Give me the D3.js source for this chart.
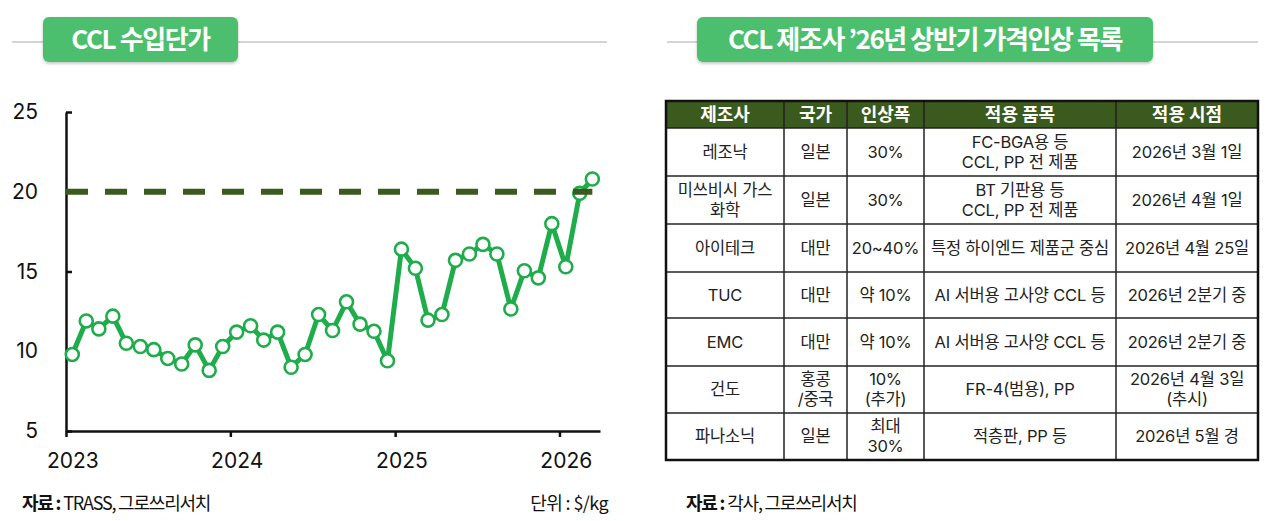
<!DOCTYPE html>
<html>
<head>
<meta charset="utf-8">
<script src="https://cdn.jsdelivr.net/npm/d3@7"></script>
<style>
  html, body { margin: 0; padding: 0; background: #fff; }
  svg { display: block; }
</style>
</head>
<body>
<svg id="page" width="1280" height="521"></svg>
<script>
// monthly CCL import unit price ($/kg)
var months = [
    '2023-01', '2023-02', '2023-03', '2023-04', '2023-05', '2023-06',
    '2023-07', '2023-08', '2023-09', '2023-10', '2023-11', '2023-12',
    '2024-01', '2024-02', '2024-03', '2024-04', '2024-05', '2024-06',
    '2024-07', '2024-08', '2024-09', '2024-10', '2024-11', '2024-12',
    '2025-01', '2025-02', '2025-03', '2025-04', '2025-05', '2025-06',
    '2025-07', '2025-08', '2025-09', '2025-10', '2025-11', '2025-12',
    '2026-01', '2026-02', '2026-03'
];
var prices = [
    9.8, 11.9, 11.4, 12.2, 10.5, 10.3, 10.1, 9.55, 9.2, 10.4, 8.8, 10.3,
    11.2, 11.6, 10.7, 11.2, 9.0, 9.8, 12.3, 11.3, 13.1, 11.7, 11.25, 9.4,
    16.4, 15.2, 11.95, 12.3, 15.7, 16.1, 16.7, 16.1, 12.65, 15.05, 14.6, 18.0,
    15.3, 19.9, 20.8
];
var refLevel = 20;
var yearTicks = [2023, 2024, 2025, 2026];
var yTicks = [5, 10, 15, 20, 25];

// table of price hikes
var tableHeader = ['제조사', '국가', '인상폭', '적용 품목', '적용 시점'];
var tableRows = [
    ['레조낙', '일본', '30%', 'FC-BGA용 등\nCCL, PP 전 제품', '2026년 3월 1일'],
    ['미쓰비시 가스\n화학', '일본', '30%', 'BT 기판용 등\nCCL, PP 전 제품', '2026년 4월 1일'],
    ['아이테크', '대만', '20~40%', '특정 하이엔드 제품군 중심', '2026년 4월 25일'],
    ['TUC', '대만', '약 10%', 'AI 서버용 고사양 CCL 등', '2026년 2분기 중'],
    ['EMC', '대만', '약 10%', 'AI 서버용 고사양 CCL 등', '2026년 2분기 중'],
    ['건도', '홍콩\n/중국', '10%\n(추가)', 'FR-4(범용), PP', '2026년 4월 3일\n(추시)'],
    ['파나소닉', '일본', '최대\n30%', '적층판, PP 등', '2026년 5월 경']
];

var leftTitle = 'CCL 수입단가';
var rightTitle = 'CCL 제조사 ’26년 상반기 가격인상 목록';
var leftSource = 'TRASS, 그로쓰리서치';
var rightSource = '각사, 그로쓰리서치';
var unitText = '단위 :  $/kg';

var KR = '"Noto Sans CJK KR", "Noto Sans", sans-serif';
var TBL = 'Inter, "Noto Sans CJK KR", sans-serif';
var GREEN = '#1fad4c';
var DARK = '#3b5a1e';

var svg = d3.select('#page');

// defs: soft shadow for title pills
var defs = svg.append('defs');
var f = defs.append('filter').attr('id', 'pillShadow')
    .attr('x', '-10%').attr('y', '-20%').attr('width', '120%').attr('height', '150%');
f.append('feDropShadow').attr('dx', 0).attr('dy', 1.5).attr('stdDeviation', 1.5)
    .attr('flood-color', '#000').attr('flood-opacity', 0.25);

function titleBar(x0, x1, px, pw, text) {
    svg.append('line')
        .attr('x1', x0).attr('x2', x1).attr('y1', 42).attr('y2', 42)
        .attr('stroke', '#c6c6c6').attr('stroke-width', 1.5);
    svg.append('rect')
        .attr('x', px).attr('y', 17).attr('width', pw).attr('height', 45)
        .attr('rx', 6).attr('fill', '#4cbf6e')
        .attr('filter', 'url(#pillShadow)');
    svg.append('text')
        .attr('x', px + pw / 2).attr('y', 49)
        .attr('text-anchor', 'middle')
        .attr('font-family', KR).attr('font-weight', 700)
        .attr('font-size', 26).attr('letter-spacing', -1.4)
        .attr('fill', '#fff')
        .text(text);
}

titleBar(12, 607, 43, 195, leftTitle);
titleBar(667, 1258, 697, 456, rightTitle);

// ---------- line chart ----------
var parse = d3.timeParse('%Y-%m-%d');
var data = months.map(function(m, i) {
    return { date: parse(m + '-15'), value: prices[i] };
});

var x = d3.scaleTime()
    .domain([parse('2023-01-01'), parse('2026-04-01')])
    .range([66, 600]);
var y = d3.scaleLinear().domain([5, 25]).range([431, 112]);

var chart = svg.append('g');

var yAxis = chart.append('g')
    .attr('transform', 'translate(66,0)')
    .call(d3.axisLeft(y).tickValues(yTicks).tickSizeInner(-6).tickSizeOuter(0).tickPadding(28));
yAxis.select('.domain').attr('stroke', '#111').attr('stroke-width', 2.5);
yAxis.selectAll('.tick line').attr('stroke', '#111').attr('stroke-width', 2.5);
yAxis.selectAll('.tick text')
    .attr('font-family', 'Inter, "Noto Sans", sans-serif')
    .attr('font-size', 21).attr('fill', '#111');

var yearStarts = yearTicks.map(function(yr) { return parse(yr + '-01-01'); });
var xAxis = chart.append('g')
    .attr('transform', 'translate(0,431)')
    .call(d3.axisBottom(x).tickValues(yearStarts).tickSizeInner(6).tickSizeOuter(0)
        .tickPadding(16).tickFormat(d3.timeFormat('%Y')));
xAxis.select('.domain').attr('stroke', '#111').attr('stroke-width', 2.5);
xAxis.selectAll('.tick line').attr('stroke', '#111').attr('stroke-width', 2.5);
xAxis.selectAll('.tick text')
    .attr('font-family', 'Inter, "Noto Sans", sans-serif')
    .attr('font-size', 21).attr('fill', '#111')
    .attr('dx', function(d) {
        var mid = d3.timeDay.offset(d, 14);
        return x(mid) - x(d);
    });

var line = d3.line()
    .x(function(d) { return x(d.date); })
    .y(function(d) { return y(d.value); });

chart.append('path')
    .datum(data)
    .attr('d', line)
    .attr('fill', 'none')
    .attr('stroke', GREEN)
    .attr('stroke-width', 5)
    .attr('stroke-linejoin', 'round');

chart.selectAll('.dot')
    .data(data)
    .enter()
    .append('circle')
    .attr('class', 'dot')
    .attr('cx', function(d) { return x(d.date); })
    .attr('cy', function(d) { return y(d.value); })
    .attr('r', 6.5)
    .attr('fill', '#fff')
    .attr('stroke', GREEN)
    .attr('stroke-width', 2.6);

// reference level, drawn over the series
chart.append('line')
    .attr('x1', x.range()[0]).attr('x2', x(data[data.length - 1].date))
    .attr('y1', y(refLevel)).attr('y2', y(refLevel))
    .attr('stroke', DARK).attr('stroke-width', 6)
    .attr('stroke-dasharray', '22,17');

// footers
function source(xp, text) {
    var t = svg.append('text')
        .attr('x', xp).attr('y', 510)
        .attr('font-family', KR).attr('font-size', 18)
        .attr('letter-spacing', -1.2).attr('fill', '#111');
    t.append('tspan').attr('font-weight', 700).text('자료 : ');
    t.append('tspan').text(text);
}
source(22, leftSource);
source(686, rightSource);

svg.append('text')
    .attr('x', 608).attr('y', 510)
    .attr('text-anchor', 'end')
    .attr('font-family', KR).attr('font-size', 18)
    .attr('letter-spacing', -0.6).attr('fill', '#111')
    .text(unitText);

// ---------- table ----------
var colEdges = [666, 784, 847, 924, 1116, 1258];
var rowEdges = [101, 128, 176, 224, 272, 318, 366, 413, 460];
var lineH = 20;

var table = svg.append('g');

table.append('rect')
    .attr('x', colEdges[0]).attr('y', rowEdges[0])
    .attr('width', colEdges[5] - colEdges[0]).attr('height', rowEdges[1] - rowEdges[0])
    .attr('fill', DARK);

function cellText(lines, cx, cy, header) {
    var n = lines.length;
    var t = table.append('text')
        .attr('text-anchor', 'middle')
        .attr('font-family', header ? KR : TBL)
        .attr('font-size', header ? 18 : 16.5)
        .attr('font-weight', header ? 700 : 400)
        .attr('letter-spacing', header ? 0 : -0.2)
        .attr('fill', header ? '#fff' : '#222');
    lines.forEach(function(l, i) {
        t.append('tspan')
            .attr('x', cx)
            .attr('y', cy + (i - (n - 1) / 2) * lineH)
            .attr('dy', '0.36em')
            .text(l);
    });
}

tableHeader.forEach(function(h, c) {
    cellText([h], (colEdges[c] + colEdges[c + 1]) / 2, (rowEdges[0] + rowEdges[1]) / 2, true);
});
tableRows.forEach(function(row, r) {
    row.forEach(function(cell, c) {
        cellText(cell.split('\n'),
            (colEdges[c] + colEdges[c + 1]) / 2,
            (rowEdges[r + 1] + rowEdges[r + 2]) / 2, false);
    });
});

// grid lines
colEdges.slice(1, -1).forEach(function(cx) {
    table.append('line')
        .attr('x1', cx).attr('x2', cx).attr('y1', rowEdges[0]).attr('y2', rowEdges[rowEdges.length - 1])
        .attr('stroke', '#222').attr('stroke-width', 1.5);
});
rowEdges.slice(1, -1).forEach(function(ry) {
    table.append('line')
        .attr('x1', colEdges[0]).attr('x2', colEdges[colEdges.length - 1]).attr('y1', ry).attr('y2', ry)
        .attr('stroke', '#222').attr('stroke-width', 1.5);
});
table.append('rect')
    .attr('x', colEdges[0]).attr('y', rowEdges[0])
    .attr('width', colEdges[5] - colEdges[0])
    .attr('height', rowEdges[rowEdges.length - 1] - rowEdges[0])
    .attr('fill', 'none').attr('stroke', '#111').attr('stroke-width', 2.5);
</script>
</body>
</html>
